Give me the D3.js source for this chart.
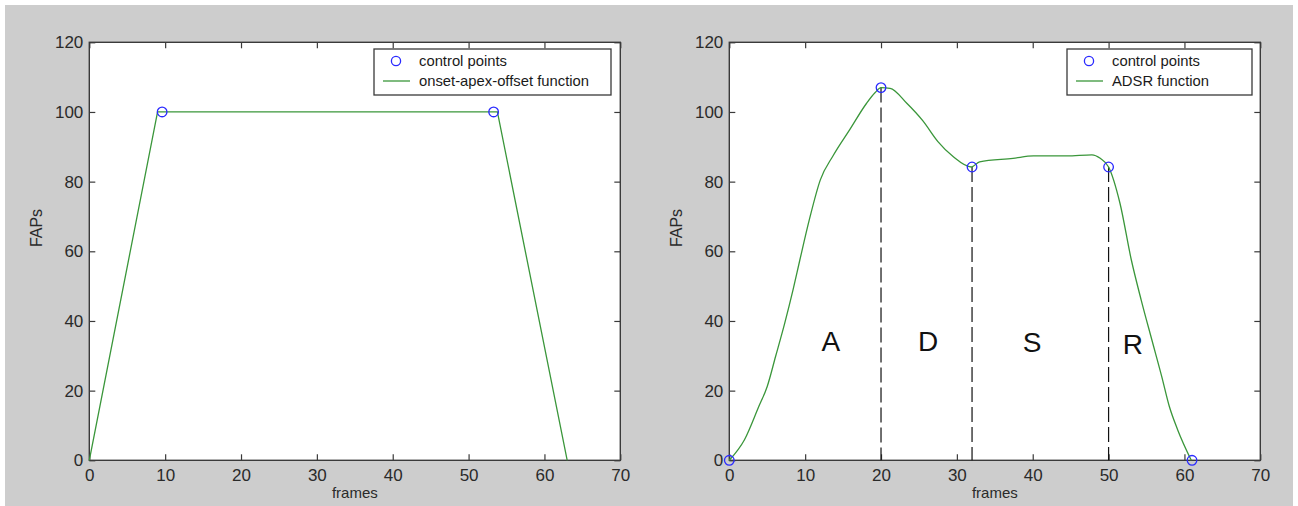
<!DOCTYPE html>
<html>
<head>
<meta charset="utf-8">
<script src="https://cdnjs.cloudflare.com/ajax/libs/d3/7.8.5/d3.min.js"></script>
<style>
  body { margin: 0; background: #fff; }
  .tick text { font-family: "Liberation Sans Narrow", "Liberation Sans", Arial, sans-serif; font-size: 17px; fill: #2a2a2a; }
  .tick line { stroke: #3a3a3a; stroke-width: 1.2; }
</style>
</head>
<body>
<div id="chart"></div>
<script>
  var width = 1298,
      height = 506;

  // axes ticks
  var frameTicks = [0, 10, 20, 30, 40, 50, 60, 70];
  var fapTicks = [0, 20, 40, 60, 80, 100, 120];

  // left: onset-apex-offset
  var oaoFrames = [0, 9, 53.8, 63];
  var oaoValues = [0, 100, 100, 0];
  var oaoCtrlFrames = [9.6, 53.3];
  var oaoCtrlValues = [100, 100];

  // right: ADSR
  var adsrFrames = [0, 2, 3.9, 5, 6.1, 7.3, 8.4, 9.3, 10.6, 12, 13.7, 15.9, 18.1, 19.2, 20, 21.2, 23.4, 25.5, 27.5, 29.5, 31.9,
                    33, 37.4, 40.1, 44.5, 47.8, 48.9, 50, 51.5, 53, 54.3, 55.7, 57, 58, 59.1, 60.9];
  var adsrValues = [0, 5.9, 15.5, 21.2, 29.8, 39.3, 48.9, 57.5, 69.5, 80.5, 87.5, 95, 102.5, 105.5, 107, 106.8, 102.5, 97.5, 91.5, 87.2, 84.2,
                    85.7, 86.7, 87.4, 87.4, 87.7, 86.7, 84.2, 73.8, 57.5, 46, 34.6, 24.1, 15.5, 8.8, 0];
  var adsrCtrlFrames = [0, 20, 32, 50, 61];
  var adsrCtrlValues = [0, 107, 84.2, 84.2, 0];
  var phaseLabels = ["A", "D", "S", "R"];
  var phaseFrames = [13.4, 26.2, 39.9, 53.2];
  var phaseValues = [31.5, 31.5, 31, 30.5];

  var svg = d3.select("#chart").append("svg")
      .attr("width", width)
      .attr("height", height);

  svg.append("rect")
      .attr("x", 5).attr("y", 5)
      .attr("width", width - 10).attr("height", height - 5)
      .attr("fill", "#cdcdcd");

  var green = "#3a963a",
      blue = "#2a2aff",
      axisColor = "#3a3a3a";

  function panel(left, right, legendBox, lineLabel) {
    var x = d3.scaleLinear().domain([0, 70]).range([left, right]);
    var y = d3.scaleLinear().domain([0, 120]).range([460.3, 42.3]);
    var g = svg.append("g");

    g.append("rect")
        .attr("x", x(0)).attr("y", y(120))
        .attr("width", x(70) - x(0)).attr("height", y(0) - y(120))
        .attr("fill", "#fff");

    g.append("g").attr("transform", "translate(0," + y(0) + ")")
        .call(d3.axisBottom(x).tickValues(frameTicks).tickSize(-6).tickPadding(9))
        .call(function(a) { a.select(".domain").remove(); });
    g.append("g").attr("transform", "translate(0," + y(120) + ")")
        .call(d3.axisTop(x).tickValues(frameTicks).tickSize(-6).tickFormat(""))
        .call(function(a) { a.select(".domain").remove(); });
    g.append("g").attr("transform", "translate(" + x(0) + ",0)")
        .call(d3.axisLeft(y).tickValues(fapTicks).tickSize(-6).tickPadding(6))
        .call(function(a) { a.select(".domain").remove(); });
    g.append("g").attr("transform", "translate(" + x(70) + ",0)")
        .call(d3.axisRight(y).tickValues(fapTicks).tickSize(-6).tickFormat(""))
        .call(function(a) { a.select(".domain").remove(); });

    g.append("rect")
        .attr("x", x(0)).attr("y", y(120))
        .attr("width", x(70) - x(0)).attr("height", y(0) - y(120))
        .attr("fill", "none")
        .attr("stroke", axisColor)
        .attr("stroke-width", 1.4);

    g.append("text")
        .attr("x", (x(0) + x(70)) / 2)
        .attr("y", 498)
        .attr("text-anchor", "middle")
        .attr("font-family", "Liberation Sans, Arial, sans-serif")
        .attr("font-size", 15)
        .attr("fill", "#2a2a2a")
        .text("frames");

    g.append("text")
        .attr("transform", "translate(" + (x(0) - 47) + ",228) rotate(-90)")
        .attr("text-anchor", "middle")
        .attr("font-family", "Liberation Sans, Arial, sans-serif")
        .attr("font-size", 16)
        .attr("fill", "#2a2a2a")
        .text("FAPs");

    // legend
    var lg = g.append("g");
    lg.append("rect")
        .attr("x", legendBox[0]).attr("y", 49)
        .attr("width", legendBox[1] - legendBox[0]).attr("height", 46)
        .attr("fill", "#fff")
        .attr("stroke", axisColor)
        .attr("stroke-width", 1.3);
    var lx = legendBox[0] + 9;
    lg.append("circle")
        .attr("cx", lx + 13).attr("cy", 61).attr("r", 4.6)
        .attr("fill", "none").attr("stroke", blue).attr("stroke-width", 1.3);
    lg.append("line")
        .attr("x1", lx).attr("x2", lx + 27)
        .attr("y1", 81).attr("y2", 81)
        .attr("stroke", green).attr("stroke-width", 1.3);
    lg.selectAll("text.leg")
        .data(["control points", lineLabel])
      .enter().append("text")
        .attr("class", "leg")
        .attr("x", lx + 36)
        .attr("y", function(d, i) { return 66 + i * 20; })
        .attr("font-family", "Liberation Sans, Arial, sans-serif")
        .attr("font-size", 14.8)
        .attr("fill", "#1a1a1a")
        .text(function(d) { return d; });

    return { g: g, x: x, y: y };
  }

  // left panel
  var p1 = panel(89.3, 620.3, [374, 611], "onset-apex-offset function");
  p1.g.append("path")
      .datum(d3.zip(oaoFrames, oaoValues))
      .attr("d", d3.line().x(function(d) { return p1.x(d[0]); }).y(function(d) { return p1.y(d[1]); }))
      .attr("fill", "none")
      .attr("stroke", green)
      .attr("stroke-width", 1.3);
  p1.g.selectAll("circle.cp")
      .data(d3.zip(oaoCtrlFrames, oaoCtrlValues))
    .enter().append("circle")
      .attr("class", "cp")
      .attr("cx", function(d) { return p1.x(d[0]); })
      .attr("cy", function(d) { return p1.y(d[1]); })
      .attr("r", 4.8)
      .attr("fill", "none").attr("stroke", blue).attr("stroke-width", 1.3);

  // right panel
  var p2 = panel(729.3, 1260.3, [1067, 1252], "ADSR function");
  var ctrl = d3.zip(adsrCtrlFrames, adsrCtrlValues);
  p2.g.selectAll("line.bound")
      .data(ctrl.slice(1, 4))
    .enter().append("line")
      .attr("class", "bound")
      .attr("x1", function(d) { return p2.x(d[0]); })
      .attr("x2", function(d) { return p2.x(d[0]); })
      .attr("y1", function(d) { return p2.y(d[1]); })
      .attr("y2", p2.y(0))
      .attr("stroke", "#111")
      .attr("stroke-width", 1.2)
      .attr("stroke-dasharray", "15,5");
  p2.g.append("path")
      .datum(d3.zip(adsrFrames, adsrValues))
      .attr("d", d3.line().curve(d3.curveMonotoneX)
        .x(function(d) { return p2.x(d[0]); })
        .y(function(d) { return p2.y(d[1]); }))
      .attr("fill", "none")
      .attr("stroke", green)
      .attr("stroke-width", 1.3);
  p2.g.selectAll("circle.cp")
      .data(ctrl)
    .enter().append("circle")
      .attr("class", "cp")
      .attr("cx", function(d) { return p2.x(d[0]); })
      .attr("cy", function(d) { return p2.y(d[1]); })
      .attr("r", 4.8)
      .attr("fill", "none").attr("stroke", blue).attr("stroke-width", 1.3);
  p2.g.selectAll("text.phase")
      .data(phaseLabels)
    .enter().append("text")
      .attr("class", "phase")
      .attr("x", function(d, i) { return p2.x(phaseFrames[i]); })
      .attr("y", function(d, i) { return p2.y(phaseValues[i]); })
      .attr("text-anchor", "middle")
      .attr("font-family", "Liberation Sans, Arial, sans-serif")
      .attr("font-size", 28)
      .attr("fill", "#111")
      .text(function(d) { return d; });
</script>
</body>
</html>
